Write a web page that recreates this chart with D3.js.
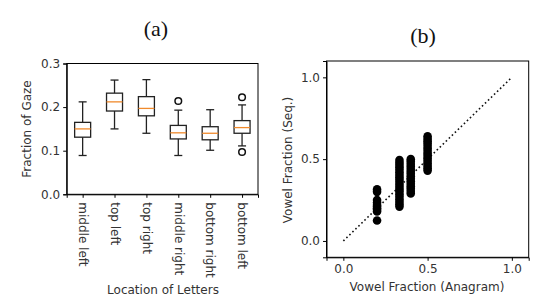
<!DOCTYPE html>
<html><head><meta charset="utf-8">
<script src="https://cdn.jsdelivr.net/npm/d3@7"></script>
<style>body{margin:0;background:#fff}svg{display:block}</style>
</head><body>
<script>
const categories = ["middle left","top left","top right","middle right","bottom right","bottom left"];
const whiskerLow  = [0.089,0.150,0.140,0.089,0.101,0.111];
const q1          = [0.131,0.191,0.180,0.127,0.125,0.140];
const medians     = [0.150,0.212,0.197,0.141,0.140,0.153];
const q3          = [0.165,0.232,0.224,0.158,0.155,0.169];
const whiskerHigh = [0.212,0.262,0.263,0.193,0.194,0.205];
const outliers    = [[],[],[],[0.214],[],[0.2225,0.097]];
const yTicksA = [0.0,0.1,0.2,0.3];

const anagramX = [0.2, 0.333, 0.4, 0.5];
const seqY = [
  [0.125,0.18,0.19,0.20,0.21,0.22,0.235,0.25,0.30,0.315],
  [0.21,0.225,0.24,0.255,0.27,0.285,0.30,0.315,0.33,0.345,0.36,0.375,0.39,0.405,0.42,0.435,0.45,0.465,0.48,0.495],
  [0.29,0.305,0.32,0.335,0.35,0.365,0.38,0.395,0.41,0.425,0.44,0.455,0.47,0.485,0.50],
  [0.43,0.445,0.46,0.475,0.49,0.505,0.52,0.535,0.55,0.565,0.58,0.595,0.61,0.625,0.64]
];
const ticksB = [0.0,0.5,1.0];

const W=544,H=306;
const svg=d3.select("body").append("svg").attr("width",W).attr("height",H);
const tc="#333", fs="12px", ff="'DejaVu Sans', sans-serif";

// Panel (a)
const xA=d3.scaleLinear().domain([0.5,6.5]).range([66.7,258]);
const yA=d3.scaleLinear().domain([0,0.3]).range([194.3,63.5]);
const gA=svg.append("g");
gA.append("text").attr("x",156).attr("y",36).attr("text-anchor","middle")
  .attr("font-family","'Liberation Serif', serif").attr("font-size","22px").attr("fill","#111").text("(a)");
gA.append("g").attr("transform","translate(66.7,0)")
  .call(d3.axisLeft(yA).tickValues(yTicksA).tickFormat(d3.format(".1f")).tickSizeOuter(0).tickSize(3.5).tickPadding(3));
const axXA=gA.append("g").attr("transform","translate(0,194.3)")
  .call(d3.axisBottom(xA).tickValues(d3.range(1,7)).tickFormat(i=>categories[i-1]).tickSizeOuter(0).tickSize(3.5));
axXA.selectAll("text").attr("transform","rotate(90)").attr("text-anchor","start")
  .attr("x",8).attr("y",0).attr("dy","0.35em");
gA.append("rect").attr("x",66.7).attr("y",63.5).attr("width",258-66.7).attr("height",194.3-63.5)
  .attr("fill","none").attr("stroke","#000").attr("stroke-width",1);
categories.forEach((c,i)=>{
  const cx=xA(i+1), bw=16, cw=8;
  const g=gA.append("g").attr("stroke","#222").attr("stroke-width",1.3).attr("fill","none");
  g.append("line").attr("x1",cx).attr("x2",cx).attr("y1",yA(whiskerLow[i])).attr("y2",yA(q1[i]));
  g.append("line").attr("x1",cx).attr("x2",cx).attr("y1",yA(q3[i])).attr("y2",yA(whiskerHigh[i]));
  g.append("line").attr("x1",cx-cw/2).attr("x2",cx+cw/2).attr("y1",yA(whiskerLow[i])).attr("y2",yA(whiskerLow[i]));
  g.append("line").attr("x1",cx-cw/2).attr("x2",cx+cw/2).attr("y1",yA(whiskerHigh[i])).attr("y2",yA(whiskerHigh[i]));
  g.append("rect").attr("x",cx-bw/2).attr("width",bw).attr("y",yA(q3[i])).attr("height",yA(q1[i])-yA(q3[i]));
  g.append("line").attr("x1",cx-bw/2).attr("x2",cx+bw/2).attr("y1",yA(medians[i])).attr("y2",yA(medians[i]))
    .attr("stroke","#f08a2c").attr("stroke-width",1.3);
  outliers[i].forEach(o=>{
    g.append("circle").attr("cx",cx).attr("cy",yA(o)).attr("r",3.3).attr("stroke","#111").attr("stroke-width",1.5);
  });
});
gA.append("text").attr("transform","translate(31,129) rotate(-90)").attr("text-anchor","middle")
  .attr("font-family",ff).attr("font-size",fs).attr("fill",tc).text("Fraction of Gaze");
gA.append("text").attr("x",163).attr("y",294).attr("text-anchor","middle")
  .attr("font-family",ff).attr("font-size",fs).attr("fill",tc).text("Location of Letters");

// Panel (b)
const xB=d3.scaleLinear().domain([-0.1,1.1]).range([326.5,528.7]);
const yB=d3.scaleLinear().domain([-0.1,1.1]).range([257.3,61]);
const gB=svg.append("g");
gB.append("text").attr("x",423).attr("y",43).attr("text-anchor","middle")
  .attr("font-family","'Liberation Serif', serif").attr("font-size","22px").attr("fill","#111").text("(b)");
gB.append("g").attr("transform","translate(326.5,0)")
  .call(d3.axisLeft(yB).tickValues(ticksB).tickFormat(d3.format(".1f")).tickSizeOuter(0).tickSize(3.5).tickPadding(3));
gB.append("g").attr("transform","translate(0,257.3)")
  .call(d3.axisBottom(xB).tickValues(ticksB).tickFormat(d3.format(".1f")).tickSizeOuter(0).tickSize(3.5).tickPadding(3.5));
gB.append("rect").attr("x",326.5).attr("y",61).attr("width",528.7-326.5).attr("height",257.3-61)
  .attr("fill","none").attr("stroke","#000").attr("stroke-width",1);
gB.append("line").attr("x1",xB(0)).attr("y1",yB(0)).attr("x2",xB(1)).attr("y2",yB(1))
  .attr("stroke","#111").attr("stroke-width",1.6).attr("stroke-dasharray","1.6,2.6");
const pts=[];
anagramX.forEach((x,i)=>seqY[i].forEach(y=>pts.push([x,y])));
gB.append("g").selectAll("circle").data(pts).join("circle")
  .attr("cx",d=>xB(d[0])).attr("cy",d=>yB(d[1])).attr("r",4.3).attr("fill","#000");
gB.append("text").attr("transform","translate(292,160) rotate(-90)").attr("text-anchor","middle")
  .attr("font-family",ff).attr("font-size",fs).attr("fill",tc).text("Vowel Fraction (Seq.)");
gB.append("text").attr("x",427).attr("y",291).attr("text-anchor","middle")
  .attr("font-family",ff).attr("font-size",fs).attr("fill",tc).text("Vowel Fraction (Anagram)");

svg.selectAll(".tick text").attr("font-family",ff).attr("font-size",fs).attr("fill",tc);
svg.selectAll(".domain").attr("stroke","#000");
svg.selectAll(".tick line").attr("stroke","#000");
</script>
</body></html>
